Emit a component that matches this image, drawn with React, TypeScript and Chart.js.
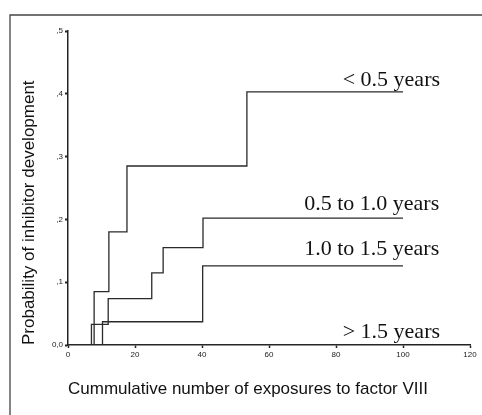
import React, { useEffect, useRef } from "react";
import { Chart, registerables } from "chart.js";

Chart.register(...registerables);

// Data
const under05X = [0, 7.8, 12.2, 17.6, 53.4, 100];
const under05Y = [0, 0.085, 0.18, 0.285, 0.403, 0.403];

const from05to10X = [0, 7, 12, 25, 28.4, 40.3, 100];
const from05to10Y = [0, 0.033, 0.074, 0.115, 0.155, 0.202, 0.202];

const from10to15X = [0, 10.3, 40.2, 100];
const from10to15Y = [0, 0.037, 0.126, 0.126];

const over15X = [0, 100];
const over15Y = [0, 0];

const seriesNames = ["< 0.5 years", "0.5 to 1.0 years", "1.0 to 1.5 years", "> 1.5 years"];
// label anchors in data units (x = start of text, y = middle of text)
const labelX = [82, 70.5, 70.5, 82];
const labelY = [0.422, 0.224, 0.152, 0.021];

const xTickLabels = ["0", "20", "40", "60", "80", "100", "120"];
const yTickLabels = ["0,0", ",1", ",2", ",3", ",4", ",5"];

const xTitle = "Cummulative number of exposures to factor VIII";
const yTitle = "Probability of inhibitor development";

const toPoints = (xs: number[], ys: number[]) => xs.map((x, i) => ({ x, y: ys[i] }));

export default function App() {
  const ref = useRef<HTMLCanvasElement | null>(null);

  useEffect(() => {
    if (!ref.current) return;
    const lineColor = "#2a2a2a";
    const mk = (xs: number[], ys: number[], label: string) => ({
      label,
      data: toPoints(xs, ys),
      stepped: "before" as const,
      borderColor: lineColor,
      borderWidth: 1.3,
      pointRadius: 0,
      fill: false,
    });

    const framePlugin = {
      id: "frame",
      beforeDraw(chart: any) {
        const ctx = chart.ctx;
        ctx.save();
        ctx.strokeStyle = "#444";
        ctx.lineWidth = 1.3;
        ctx.beginPath();
        ctx.moveTo(482, 15);
        ctx.lineTo(10, 15);
        ctx.lineTo(10, 415);
        ctx.stroke();
        ctx.restore();
      },
    };

    const labelPlugin = {
      id: "seriesLabels",
      afterDatasetsDraw(chart: any) {
        const ctx = chart.ctx;
        const xs = chart.scales.x;
        const ys = chart.scales.y;
        ctx.save();
        ctx.fillStyle = "#111";
        ctx.font = '22px "Liberation Serif", "Times New Roman", serif';
        ctx.textAlign = "left";
        ctx.textBaseline = "middle";
        seriesNames.forEach((name, i) => {
          ctx.fillText(name, xs.getPixelForValue(labelX[i]), ys.getPixelForValue(labelY[i]));
        });
        ctx.restore();
      },
    };

    const chart = new Chart(ref.current, {
      type: "line",
      data: {
        datasets: [
          mk(under05X, under05Y, seriesNames[0]),
          mk(from05to10X, from05to10Y, seriesNames[1]),
          mk(from10to15X, from10to15Y, seriesNames[2]),
          mk(over15X, over15Y, seriesNames[3]),
        ],
      },
      options: {
        animation: false,
        responsive: false,
        devicePixelRatio: 1,
        layout: { padding: { top: 31, right: 12, bottom: 0, left: 0 } },
        plugins: { legend: { display: false }, tooltip: { enabled: false } },
        scales: {
          x: {
            type: "linear",
            min: 0,
            max: 120,
            afterFit(scale: any) {
              scale.height = 70;
            },
            ticks: {
              stepSize: 20,
              autoSkip: false,
              maxRotation: 0,
              padding: 2,
              color: "#222",
              font: { family: '"Liberation Sans", Arial, sans-serif', size: 8 },
              callback: (_v: any, i: number) => xTickLabels[i],
            },
            grid: {
              display: true,
              drawOnChartArea: false,
              drawTicks: true,
              tickLength: 3,
              tickColor: "#222",
              tickWidth: 1.5,
            },
            border: { display: true, color: "#222", width: 1.5 },
            title: {
              display: true,
              text: xTitle,
              align: "start",
              color: "#111",
              font: { family: '"Liberation Sans", Arial, sans-serif', size: 17 },
              padding: { top: 0, bottom: 15 },
            },
          },
          y: {
            type: "linear",
            min: 0,
            max: 0.5,
            afterFit(scale: any) {
              scale.width = 68;
            },
            ticks: {
              stepSize: 0.1,
              autoSkip: false,
              padding: 2,
              color: "#222",
              font: { family: '"Liberation Sans", Arial, sans-serif', size: 8 },
              callback: (_v: any, i: number) => yTickLabels[i],
            },
            grid: {
              display: true,
              drawOnChartArea: false,
              drawTicks: true,
              tickLength: 3,
              tickColor: "#222",
              tickWidth: 2,
            },
            border: { display: true, color: "#222", width: 1.5 },
            title: {
              display: true,
              text: yTitle,
              align: "start",
              color: "#111",
              font: { family: '"Liberation Sans", Arial, sans-serif', size: 17 },
              padding: { top: 19, bottom: 0 },
            },
          },
        },
      },
      plugins: [framePlugin, labelPlugin],
    });
    return () => chart.destroy();
  }, []);

  return (
    <div style={{ position: "absolute", left: 0, top: 0, width: 482, height: 415, background: "#fff" }}>
      <canvas ref={ref} width={482} height={415} style={{ display: "block", width: 482, height: 415 }} />
    </div>
  );
}
